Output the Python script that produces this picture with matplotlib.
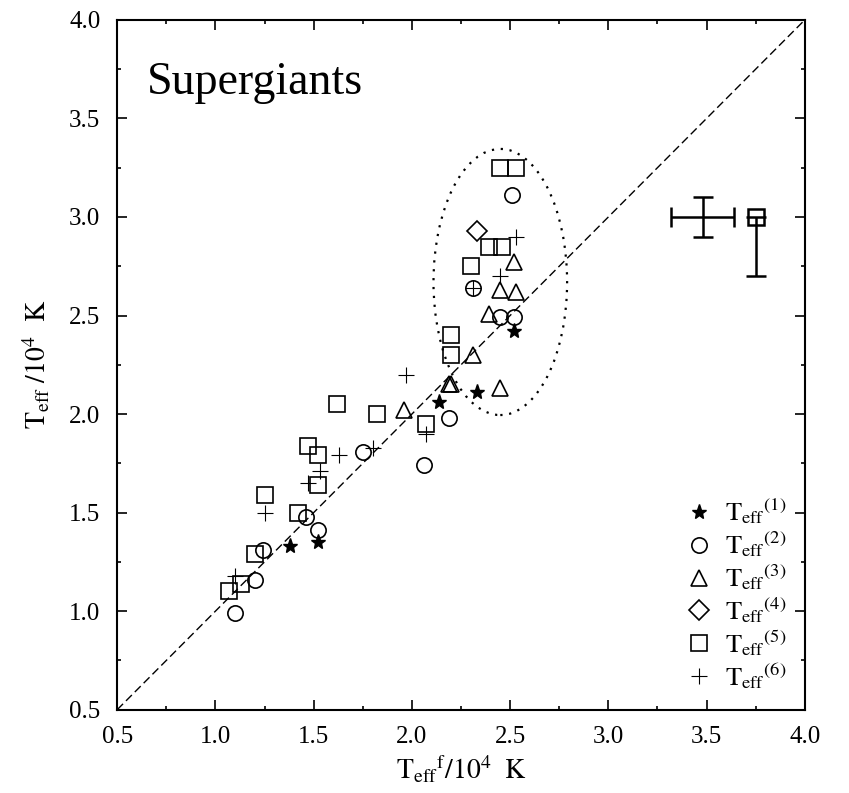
import matplotlib
matplotlib.use("Agg")
import matplotlib.pyplot as plt
from matplotlib.patches import Ellipse
from matplotlib.ticker import MultipleLocator

plt.rcParams['font.family'] = ['Liberation Serif', 'DejaVu Serif']
plt.rcParams['mathtext.fontset'] = 'stix'

# T_eff^(1) .. T_eff^(6) versus T_eff^f (units of 10^4 K)
star_x = [1.38, 1.52, 2.14, 2.33, 2.52]
star_y = [1.33, 1.35, 2.06, 2.11, 2.42]

circ_x = [1.10, 1.20, 1.24, 1.46, 1.52, 1.75, 2.06, 2.19, 2.31, 2.45, 2.52, 2.51]
circ_y = [0.99, 1.16, 1.31, 1.48, 1.41, 1.81, 1.74, 1.98, 2.64, 2.49, 2.49, 3.11]

tri_x = [1.96, 2.19, 2.20, 2.31, 2.39, 2.45, 2.45, 2.53, 2.52]
tri_y = [2.02, 2.15, 2.15, 2.30, 2.51, 2.13, 2.63, 2.62, 2.77]

dia_x = [2.33]
dia_y = [2.93]

sq_x = [1.07, 1.13, 1.20, 1.25, 1.42, 1.47, 1.52, 1.52, 1.62, 1.82, 2.07, 2.20, 2.20,
        2.30, 2.39, 2.46, 2.45, 2.53]
sq_y = [1.10, 1.14, 1.29, 1.59, 1.50, 1.84, 1.79, 1.64, 2.05, 2.00, 1.95, 2.30, 2.40,
        2.75, 2.85, 2.85, 3.25, 3.25]

plus_x = [1.10, 1.25, 1.47, 1.53, 1.63, 1.80, 1.97, 2.07, 2.31, 2.45, 2.53]
plus_y = [1.18, 1.50, 1.65, 1.71, 1.79, 1.83, 2.20, 1.90, 2.64, 2.70, 2.90]

labels = [r'$\mathrm{{T_{eff}}^{(%d)}}$' % i for i in range(1, 7)]

# typical error bars
err_x, err_y, err_dx, err_dy = 3.48, 3.0, 0.16, 0.10
err_sq_x, err_sq_y, err_sq_dy = 3.75, 3.0, 0.30

fig = plt.figure(figsize=(8.49, 7.93), dpi=100)
ax = fig.add_axes([0.138, 0.105, 0.810, 0.870])

ax.plot([0.5, 4.0], [0.5, 4.0], color='black', ls=(0, (6, 3)), lw=1.0, zorder=1)
ax.add_patch(Ellipse((2.45, 2.67), 0.68, 1.35, fill=False, ls=(0, (1, 3)), lw=1.6, ec='black'))

mk = dict(ls='none', mfc='none', mec='black', mew=1.2)
ax.plot(star_x, star_y, marker='*', ms=11, color='black', ls='none', label=labels[0])
ax.plot(circ_x, circ_y, marker='o', ms=11, label=labels[1], **mk)
ax.plot(tri_x, tri_y, marker='^', ms=12, label=labels[2], **mk)
ax.plot(dia_x, dia_y, marker='D', ms=10, label=labels[3], **mk)
ax.plot(sq_x, sq_y, marker='s', ms=12, label=labels[4], **mk)
ax.plot(plus_x, plus_y, marker='+', ms=12, color='black', mew=0.8, ls='none', label=labels[5])

ax.errorbar(err_x, err_y, xerr=err_dx, yerr=err_dy, fmt='none', ecolor='black', elinewidth=1.8,
            capsize=7, capthick=1.8)
ax.errorbar(err_sq_x, err_sq_y, yerr=[[err_sq_dy], [0]], fmt='s', ms=12, mfc='none', mec='black',
            mew=1.8, ecolor='black', elinewidth=1.8, capsize=7, capthick=1.8)

ax.text(0.65, 3.68, 'Supergiants', fontsize=33, va='center', ha='left')

ax.set_xlim(0.5, 4.0)
ax.set_ylim(0.5, 4.0)
ax.xaxis.set_major_locator(MultipleLocator(0.5))
ax.yaxis.set_major_locator(MultipleLocator(0.5))
ax.xaxis.set_minor_locator(MultipleLocator(0.25))
ax.yaxis.set_minor_locator(MultipleLocator(0.25))
ax.tick_params(which='both', direction='in', top=True, right=True, labelsize=18)
ax.tick_params(axis='y', which='major', pad=12)
ax.tick_params(axis='x', which='major', pad=12)
ax.tick_params(which='major', length=7, width=1.2)
ax.tick_params(which='minor', length=3, width=1.2)
for s in ax.spines.values():
    s.set_linewidth(1.5)

ax.set_xlabel(r'$\mathrm{{T_{eff}}^{f}/10^4\ \ K}$', fontsize=20, labelpad=4)
ax.set_ylabel(r'$\mathrm{T_{eff}\ /10^4\ \ K}$', fontsize=20, labelpad=12)

ax.legend(loc='lower right', frameon=False, fontsize=19, handletextpad=0.4, labelspacing=0.12,
          borderaxespad=0.4, handlelength=1.2, borderpad=0.3)

fig.savefig('out.png', dpi=100)
